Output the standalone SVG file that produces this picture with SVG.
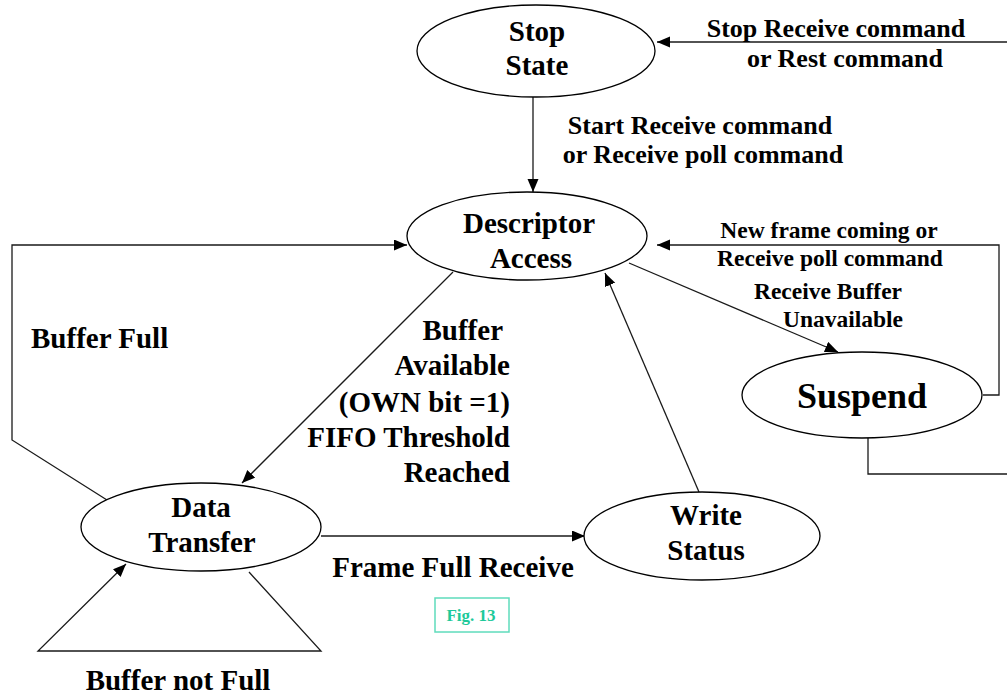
<svg xmlns="http://www.w3.org/2000/svg" width="1007" height="700" viewBox="0 0 1007 700">
<style>
.node ellipse{fill:#fff;stroke:#000;stroke-width:1.3}
text{font-family:"Liberation Serif","Times New Roman",serif;font-weight:bold;fill:#000}
.nt{font-size:29px;text-anchor:middle}
.lbl{font-size:29px}
.top{font-size:26px;text-anchor:middle}
.rl{font-size:23.5px;text-anchor:middle}
.edge{fill:none;stroke:#1a1a1a;stroke-width:1.3}
</style>
<defs>
<marker id="ah" markerUnits="userSpaceOnUse" markerWidth="14" markerHeight="12" refX="13" refY="5.5" orient="auto">
<path d="M0,0 L13,5.5 L0,11 z" fill="#000"/>
</marker>
</defs>
<rect width="1007" height="700" fill="#fff"/>
<g id="connectors">
<path class="edge" d="M1007,42 L657,42" marker-end="url(#ah)"/>
<path class="edge" d="M533,97 L533,192" marker-end="url(#ah)"/>
<path class="edge" d="M983,395 L999,395 L999,245 L657,245" marker-end="url(#ah)"/>
<path class="edge" d="M629,263 L838,352" marker-end="url(#ah)"/>
<path class="edge" d="M868,438 L868,474 L1007,474"/>
<path class="edge" d="M699,492 L605,273" marker-end="url(#ah)"/>
<path class="edge" d="M453,272 L242,483" marker-end="url(#ah)"/>
<path class="edge" d="M107,500 L12,440 L12,245 L407,245" marker-end="url(#ah)"/>
<path class="edge" d="M321,536 L585,536" marker-end="url(#ah)"/>
<path class="edge" d="M249,572 L321,651 L38,651 L126,564" marker-end="url(#ah)"/>
</g>
<g id="edge-labels">
<text class="top" x="836" y="37">Stop Receive command</text>
<text class="top" x="845" y="67">or Rest command</text>
<text class="top" x="700" y="134">Start Receive command</text>
<text class="top" x="703" y="163">or Receive poll command</text>
<text class="rl" x="829" y="238">New frame coming or</text>
<text class="rl" x="830" y="266">Receive poll command</text>
<text class="rl" x="828" y="299">Receive Buffer</text>
<text class="rl" x="843" y="327">Unavailable</text>
<text class="lbl" x="31" y="348">Buffer Full</text>
<g class="lbl" text-anchor="end">
<text class="lbl" x="503" y="340" text-anchor="end">Buffer</text>
<text class="lbl" x="510" y="375" text-anchor="end">Available</text>
<text class="lbl" x="510" y="412" text-anchor="end">(OWN bit =1)</text>
<text class="lbl" x="510" y="447" text-anchor="end">FIFO Threshold</text>
<text class="lbl" x="510" y="482" text-anchor="end">Reached</text>
</g>
<text class="lbl" x="453" y="577" text-anchor="middle">Frame Full Receive</text>
<text class="lbl" x="178" y="690" text-anchor="middle">Buffer not Full</text>
</g>
<g id="stop-state" class="node">
<ellipse cx="536" cy="51" rx="119" ry="46"/>
<text class="nt" x="537" y="41">Stop</text>
<text class="nt" x="537" y="75">State</text>
</g>
<g id="descriptor-access" class="node">
<ellipse cx="527" cy="236" rx="120" ry="44"/>
<text class="nt" x="529" y="233">Descriptor</text>
<text class="nt" x="531" y="268">Access</text>
</g>
<g id="suspend" class="node">
<ellipse cx="862" cy="395" rx="120" ry="43"/>
<text x="862" y="408" text-anchor="middle" font-size="36">Suspend</text>
</g>
<g id="data-transfer" class="node">
<ellipse cx="201" cy="527" rx="120" ry="44"/>
<text class="nt" x="201" y="517">Data</text>
<text class="nt" x="202" y="552">Transfer</text>
</g>
<g id="write-status" class="node">
<ellipse cx="702" cy="536" rx="118" ry="44"/>
<text class="nt" x="706" y="525">Write</text>
<text class="nt" x="706" y="560">Status</text>
</g>
<g id="fig-caption">
<rect x="435" y="598" width="74" height="34" fill="#fff" stroke="#5fdcbc" stroke-width="1.5"/>
<text x="471" y="621" text-anchor="middle" font-size="17" fill="#1ec99a" style="fill:#1ec99a">Fig. 13</text>
</g>
</svg>
